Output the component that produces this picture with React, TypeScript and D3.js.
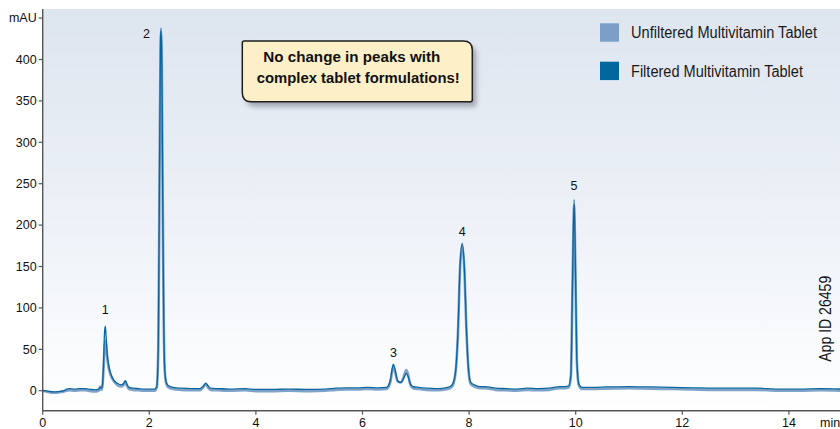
import React from "react";
import * as d3 from "d3";

// ---- data ----
const times = [
  0, 0.1, 0.2, 0.3, 0.4, 0.45, 0.5, 0.6, 0.7, 0.8, 0.9, 1.0, 1.05, 1.08, 1.1, 1.12, 1.14, 1.16, 1.175, 1.19,
  1.21, 1.24, 1.28, 1.33, 1.4, 1.48, 1.52, 1.55, 1.58, 1.62, 1.7, 1.8, 1.9, 2.0, 2.1, 2.14, 2.17, 2.19, 2.21, 2.22,
  2.235, 2.25, 2.27, 2.29, 2.32, 2.36, 2.45, 2.6, 2.8, 2.95, 3.02, 3.06, 3.1, 3.15, 3.3, 3.5, 3.8, 4.0, 4.3, 4.6,
  5.0, 5.3, 5.5, 5.7, 5.9, 6.1, 6.3, 6.45, 6.52, 6.56, 6.58, 6.61, 6.66, 6.72, 6.78, 6.82, 6.85, 6.9, 6.95, 7.05,
  7.2, 7.4, 7.6, 7.68, 7.74, 7.79, 7.83, 7.87, 7.91, 7.95, 7.99, 8.03, 8.1, 8.2, 8.3, 8.5, 8.7, 8.9, 9.1, 9.3,
  9.5, 9.7, 9.8, 9.87, 9.91, 9.94, 9.97, 9.995, 10.02, 10.06, 10.12, 10.3, 10.6, 11.0, 11.4, 11.8, 12.2, 12.6, 13.0, 13.4,
  13.8, 14.2, 14.6, 15.0,
];

const filtered = [
  0, -0.5, -1.5, -1, 0, 2, 2.5, 2, 2.5, 2.5, 1.5, 1, 2, 4, 3, 6, 30, 70, 78, 65,
  45, 30, 20, 13, 9, 7, 9, 12, 8, 4, 3, 2.5, 2, 2, 2, 5, 60, 250, 420, 438,
  400, 250, 90, 25, 10, 6, 4, 3, 2.5, 2.5, 6, 9, 6, 3, 2.5, 2, 2.5, 1.5, 1.5, 2,
  1.5, 2, 3, 3.5, 3.5, 4, 3.5, 4, 12, 28, 32, 26, 12, 10, 16, 21, 18, 8, 5, 4,
  3, 2.5, 4, 7, 20, 70, 150, 178, 150, 75, 25, 10, 7, 5, 5, 3, 2.5, 2, 3, 2.5,
  3, 5, 5, 6, 20, 130, 231, 150, 40, 8, 4, 4, 4.5, 5, 4.5, 4, 3.5, 3, 3, 3,
  2, 2, 2.5, 2,
];

const unfiltered = [
  0, -1.5, -2.5, -2, -1, 0, 0.5, 0, 0.5, 0.5, -0.5, -1, 0, 5, 1, 5, 24, 52, 60, 55,
  40, 27, 18, 12, 7, 5, 7, 11, 6, 2, 1, 0.5, 0, 0, 0, 4, 55, 240, 412, 433,
  395, 245, 88, 24, 8, 4, 2, 1, 0.5, 0.5, 5, 8, 4, 1, 0.5, 0, 0.5, -0.5, -0.5, 0,
  -0.5, 0, 1, 1.5, 1.5, 2, 1.5, 2, 10, 24, 28, 23, 11, 10, 18, 25, 21, 7, 3, 2,
  1, 0.5, 2, 5, 19, 68, 148, 176, 148, 73, 24, 8, 5, 3, 3, 1, 0.5, 0, 1, 0.5,
  1, 3, 3, 4, 18, 125, 224, 145, 38, 6, 2, 2, 2.5, 3, 2.5, 2, 1.5, 1, 1, 1,
  0, 0, 0.5, 0,
];

const peakLabels = ["1", "2", "3", "4", "5"];
const peakTimes = [1.175, 2.22, 6.58, 7.87, 9.97];
const peakValues = [78, 438, 32, 178, 231];

const yTicks = [0, 50, 100, 150, 200, 250, 300, 350, 400, 450];
const xTicks = [0, 2, 4, 6, 8, 10, 12, 14];

const seriesNames = ["Unfiltered Multivitamin Tablet", "Filtered Multivitamin Tablet"];
const seriesColors = ["#7ea2c8", "#0a659e"];
const legendColors = ["#7b9fc7", "#00669c"];

const calloutLines = ["No change in peaks with", "complex tablet formulations!"];
const appId = "App ID 26459";

export default function App() {
  const W = 840;
  const H = 429;
  const x = d3.scaleLinear().domain([0, 15]).range([42.7, 42.7 + 15 * 53.3]);
  const y = d3.scaleLinear().domain([0, 400]).range([390.7, 59.5]);
  const plotTop = 9;
  const plotBottom = 410.7;
  const left = x(0);

  const line = d3
    .line<number>()
    .x((_, i) => x(times[i]))
    .y((d) => y(d))
    .curve(d3.curveMonotoneX);

  const font = "'Liberation Sans', Arial, Helvetica, sans-serif";

  // peak label offsets (px above the peak top), label 2 sits to the left of its peak
  const labelDx = [0, -14.5, 0, 0, 0];
  const labelDy = [-12, 10, -7.5, -7, -9];

  // legend text widths measured on the reference; condensed via horizontal scale
  const legendWidths = [186, 172];
  const sx = 0.82;

  // callout box geometry
  const bx0 = 242.3, by0 = 41, bx1 = 472.3, by1 = 101.7, r = 9, rs = 2;
  const boxPath = `M${bx0 + rs},${by0} L${bx1 - r},${by0} Q${bx1},${by0} ${bx1},${by0 + r} L${bx1},${by1 - rs} Q${bx1},${by1} ${bx1 - rs},${by1} L${bx0 + r},${by1} Q${bx0},${by1} ${bx0},${by1 - r} L${bx0},${by0 + rs} Q${bx0},${by0} ${bx0 + rs},${by0} Z`;

  return (
    <svg
      width={W}
      height={H}
      viewBox={`0 0 ${W} ${H}`}
      style={{ position: "absolute", left: 0, top: 0, display: "block", background: "#fff" }}
    >
      <defs>
        <linearGradient id="bg" x1="0" y1="0" x2="0" y2="1">
          <stop offset="0" stopColor="#dde5ef" />
          <stop offset="0.55" stopColor="#eef2f8" />
          <stop offset="1" stopColor="#ffffff" />
        </linearGradient>
        <filter id="shadow" x="-10%" y="-20%" width="130%" height="160%">
          <feGaussianBlur stdDeviation="2.5" />
        </filter>
      </defs>

      <rect x={left} y={plotTop} width={W - left} height={plotBottom - plotTop} fill="url(#bg)" />

      {/* traces */}
      <path d={line(unfiltered) || ""} fill="none" stroke={seriesColors[0]} strokeWidth={2.6} strokeLinejoin="round" />
      <path d={line(filtered) || ""} fill="none" stroke={seriesColors[1]} strokeWidth={1.3} strokeLinejoin="round" />

      {/* peak labels */}
      {peakLabels.map((lab, i) => (
        <text
          key={lab}
          x={x(peakTimes[i]) + labelDx[i]}
          y={y(peakValues[i]) + labelDy[i]}
          textAnchor="middle"
          fontFamily={font}
          fontSize={12.5}
          fill="#111"
        >
          {lab}
        </text>
      ))}

      {/* y axis */}
      <line x1={left} x2={left} y1={plotTop} y2={plotBottom} stroke="#555" strokeWidth={1.4} />
      {yTicks.map((t) => (
        <g key={t}>
          <line x1={left - 4} x2={left} y1={y(t)} y2={y(t)} stroke="#555" strokeWidth={1.2} />
          <text
            x={left - 6}
            y={y(t)}
            dy="0.35em"
            textAnchor="end"
            fontFamily={font}
            fontSize={12.5}
            fill="#111"
          >
            {t === 450 ? "mAU" : t}
          </text>
        </g>
      ))}

      {/* x axis */}
      <line x1={left} x2={W} y1={plotBottom} y2={plotBottom} stroke="#555" strokeWidth={1.4} />
      {xTicks.map((t) => (
        <g key={t}>
          <line x1={x(t)} x2={x(t)} y1={plotBottom} y2={plotBottom + 4} stroke="#555" strokeWidth={1.2} />
          <text x={x(t)} y={426.5} textAnchor="middle" fontFamily={font} fontSize={12.5} fill="#111">
            {t}
          </text>
        </g>
      ))}
      <text x={820} y={426.5} fontFamily={font} fontSize={12.5} fill="#111">
        min
      </text>

      {/* legend */}
      {seriesNames.map((name, i) => (
        <g key={name}>
          <rect x={600} y={23.3 + i * 38.4} width={19} height={18.4} fill={legendColors[i]} />
          <g transform={`translate(631,${37.7 + i * 39}) scale(${sx},1)`}>
            <text
              x={0}
              y={0}
              fontFamily={font}
              fontSize={17.3}
              fill="#1a1a1a"
              textLength={legendWidths[i] / sx}
              lengthAdjust="spacingAndGlyphs"
            >
              {name}
            </text>
          </g>
        </g>
      ))}

      {/* callout */}
      <path d={boxPath} transform="translate(4,5)" fill="#8a8f99" opacity={0.75} filter="url(#shadow)" />
      <path d={boxPath} fill="#fdefc8" stroke="#1e1e1e" strokeWidth={1.5} />
      <text
        x={263.3}
        y={61.7}
        fontFamily={font}
        fontWeight="bold"
        fontSize={15.5}
        fill="#111"
        textLength={177}
        lengthAdjust="spacingAndGlyphs"
      >
        {calloutLines[0]}
      </text>
      <text
        x={256.7}
        y={83.3}
        fontFamily={font}
        fontWeight="bold"
        fontSize={15.5}
        fill="#111"
        textLength={203}
        lengthAdjust="spacingAndGlyphs"
      >
        {calloutLines[1]}
      </text>

      {/* app id */}
      <text
        transform={`translate(831,318.8) rotate(-90)`}
        textAnchor="middle"
        fontFamily={font}
        fontSize={17}
        fill="#111"
        textLength={86}
        lengthAdjust="spacingAndGlyphs"
      >
        {appId}
      </text>
    </svg>
  );
}
